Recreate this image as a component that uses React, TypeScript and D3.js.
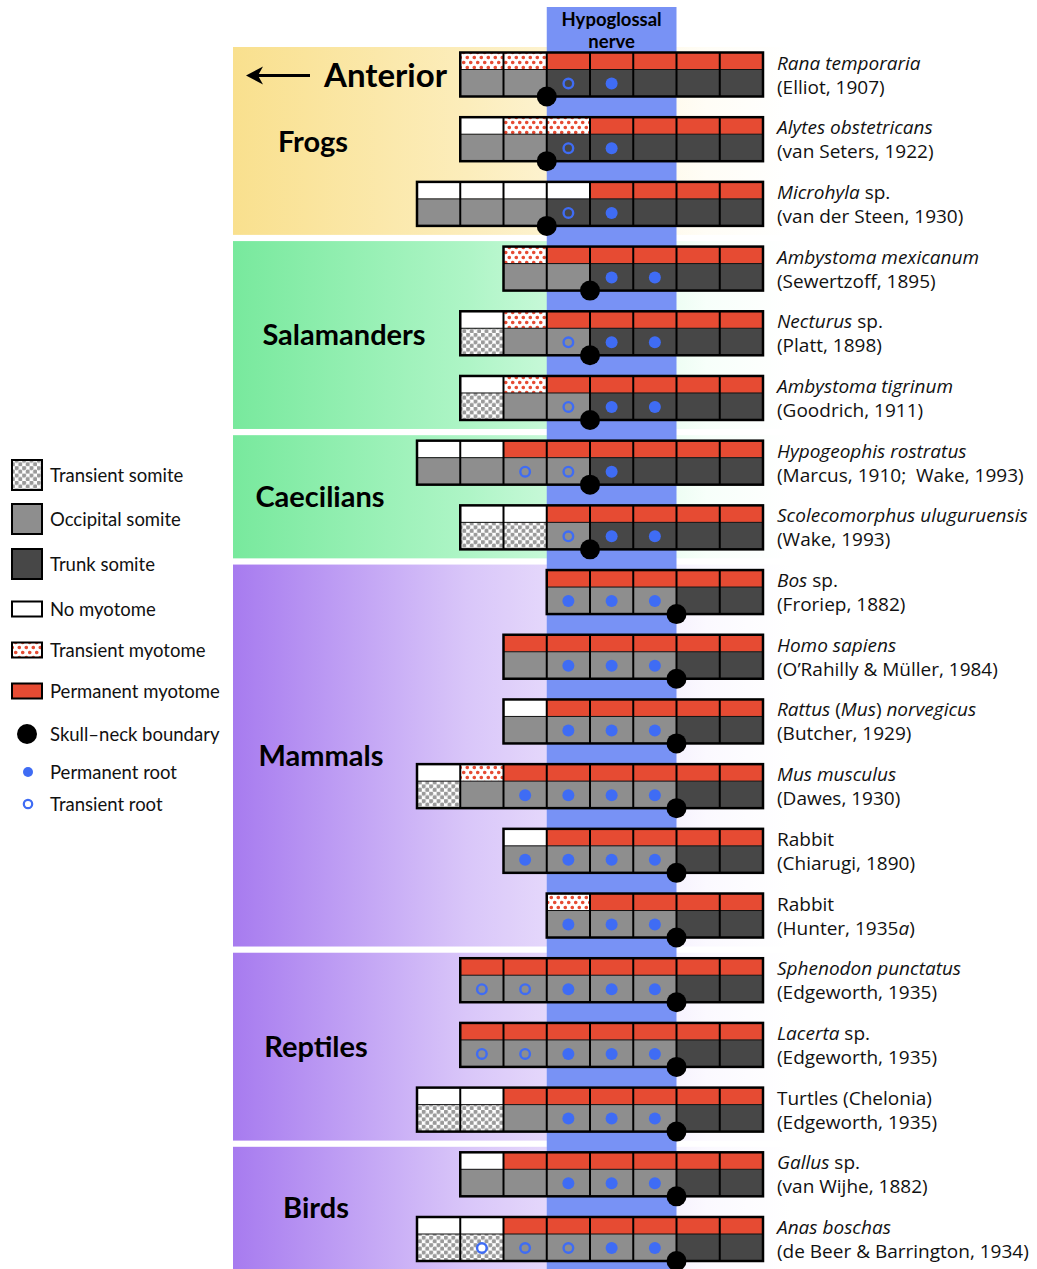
import React from "react";
import * as d3 from "d3";

// ---------- DATA ----------
const speciesNames = [
  "*Rana temporaria*", "*Alytes obstetricans*", "*Microhyla* sp.", "*Ambystoma mexicanum*",
  "*Necturus* sp.", "*Ambystoma tigrinum*", "*Hypogeophis rostratus*", "*Scolecomorphus uluguruensis*",
  "*Bos* sp.", "*Homo sapiens*", "*Rattus* (*Mus*) *norvegicus*", "*Mus musculus*", "Rabbit", "Rabbit",
  "*Sphenodon punctatus*", "*Lacerta* sp.", "Turtles (Chelonia)", "*Gallus* sp.", "*Anas boschas*",
];
const speciesRefs = [
  "(Elliot, 1907)", "(van Seters, 1922)", "(van der Steen, 1930)", "(Sewertzoff, 1895)",
  "(Platt, 1898)", "(Goodrich, 1911)", "(Marcus, 1910;  Wake, 1993)", "(Wake, 1993)",
  "(Froriep, 1882)", "(O’Rahilly & Müller, 1984)", "(Butcher, 1929)", "(Dawes, 1930)",
  "(Chiarugi, 1890)", "(Hunter, 1935*a*)", "(Edgeworth, 1935)", "(Edgeworth, 1935)",
  "(Edgeworth, 1935)", "(van Wijhe, 1882)", "(de Beer & Barrington, 1934)",
];
// first somite column (0 = most anterior column)
const startColumns = [1, 1, 0, 2, 1, 1, 0, 1, 3, 2, 2, 0, 2, 3, 1, 1, 0, 1, 0];
// myotome: N none, T transient, P permanent
const myotomeRows = [
  "TTPPPPP", "NTTPPPP", "NNNNPPPP", "TPPPPP", "NTPPPPP", "NTPPPPP", "NNPPPPPP", "NNPPPPP",
  "PPPPP", "PPPPPP", "NPPPPP", "NTPPPPPP", "NPPPPP", "TPPPP", "PPPPPPP", "PPPPPPP",
  "NNPPPPPP", "NPPPPPP", "NNPPPPPP",
];
// somite: t transient, o occipital, k trunk
const somiteRows = [
  "ookkkkk", "ookkkkk", "oookkkkk", "ookkkk", "tookkkk", "tookkkk", "ooookkkk", "ttokkkk",
  "oookk", "ooookk", "ooookk", "toooookk", "ooookk", "oookk", "oooookk", "oooookk",
  "ttooookk", "oooookk", "ttooookk",
];
// roots: . none, P permanent, T transient
const rootRows = [
  "..TP...", "..TP...", "...TP...", "..PP..", "..TPP..", "..TPP..", "..TTP...", "..TPP..",
  "PPP..", ".PPP..", ".PPP..", "..PPPP..", "PPPP..", "PPP..", "TTPPP..", "TTPPP..",
  "...PPP..", "..PPP..", ".TTTPP..",
];
// skull-neck boundary: column edge index
const boundaryEdges = [3, 3, 3, 4, 4, 4, 4, 4, 6, 6, 6, 6, 6, 6, 6, 6, 6, 6, 6];

const groupNames = ["Frogs", "Salamanders", "Caecilians", "Mammals", "Reptiles", "Birds"];
const groupFirstRow = [0, 3, 6, 8, 14, 17];
const groupLastRow = [2, 5, 7, 13, 16, 18];
const groupPalette = ["yellow", "green", "green", "purple", "purple", "purple"];

const hypoglossalColumns = [3, 6]; // band from edge 3 to edge 6

const legendLabels = [
  "Transient somite", "Occipital somite", "Trunk somite", "No myotome", "Transient myotome",
  "Permanent myotome", "Skull–neck boundary", "Permanent root", "Transient root",
];
const legendKinds = ["t", "o", "k", "N", "T", "P", "boundary", "rootP", "rootT"];

// ---------- STYLE / LAYOUT ----------
const W = 1037, H = 1269;
const FONT = "Lato, 'Open Sans', sans-serif";
const FONT2 = "'Open Sans', 'Noto Sans', sans-serif";
const C = {
  red: "#e64b33", occ: "#8e8e8e", trunk: "#474747", root: "#3f6cf4", band: "#7892f5",
};
const gradients: Record<string, string[]> = {
  yellow: ["#f9e08e", "#fcedbb", "#fffdf6"],
  green: ["#78e99d", "#aef5c6", "#f7fffa"],
  purple: ["#a77bef", "#d9c6f9", "#fbf9ff"],
};
const groupLabelX = [313, 344, 320, 321, 316, 316];
const legendY = [475, 519, 564, 609, 650, 691, 734, 772, 804];

const ROW_H = 44, MYO_H = 17;

function Rich({ text, x, y, size }: { text: string; x: number; y: number; size: number }) {
  const parts = text.split("*");
  return (
    <text x={x} y={y} fontSize={size} fontFamily={FONT2} fill="#111" style={{ whiteSpace: "pre" }}>
      {parts.map((p, i) => (
        <tspan key={i} fontStyle={i % 2 === 1 ? "italic" : "normal"}>{p}</tspan>
      ))}
    </text>
  );
}

export default function App() {
  const x = d3.scaleLinear().domain([0, 8]).range([417, 763]);
  const y = d3.scaleLinear().domain([0, 18]).range([52.5, 1217]);
  const cw = x(1) - x(0);

  const somiteFill = (s: string) => (s === "t" ? "url(#pSom)" : s === "o" ? C.occ : C.trunk);
  const myoFill = (m: string) => (m === "N" ? "#fff" : m === "T" ? "url(#pMyo)" : C.red);

  return (
    <svg width={W} height={H} style={{ position: "absolute", left: 0, top: 0, background: "#fff" }}>
      <defs>
        {Object.entries(gradients).map(([k, s]) => (
          <linearGradient key={k} id={"g-" + k} gradientUnits="userSpaceOnUse" x1={233} x2={790} y1={0} y2={0}>
            <stop offset="0" stopColor={s[0]} />
            <stop offset="0.42" stopColor={s[1]} />
            <stop offset="0.85" stopColor={s[2]} />
            <stop offset="1" stopColor="#ffffff" />
          </linearGradient>
        ))}
        <pattern id="pSom" width={7.4} height={7.4} patternUnits="userSpaceOnUse">
          <rect width={7.4} height={7.4} fill="#fff" />
          <circle cx={1.85} cy={1.85} r={2.2} fill="#9a9a9a" />
          <circle cx={5.55} cy={5.55} r={2.2} fill="#9a9a9a" />
        </pattern>
        <pattern id="pMyo" width={7} height={10} patternUnits="userSpaceOnUse">
          <rect width={7} height={10} fill="#fff" />
          <circle cx={1.75} cy={2.5} r={1.8} fill={C.red} />
          <circle cx={5.25} cy={7.5} r={1.8} fill={C.red} />
        </pattern>
      </defs>

      {/* group backgrounds */}
      {groupNames.map((g, i) => {
        const top = y(groupFirstRow[i]) - 5.5;
        const bottom = Math.min(H, y(groupLastRow[i]) + 53);
        return (
          <g key={g}>
            <rect x={233} y={top} width={790 - 233} height={bottom - top} fill={`url(#g-${groupPalette[i]})`} />
            <text x={groupLabelX[i]} y={(top + bottom) / 2 + (i === 0 ? 11 : 10)} textAnchor="middle"
              fontSize={29} fontWeight={700} fontFamily={FONT} fill="#000">{g}</text>
          </g>
        );
      })}

      {/* hypoglossal band */}
      <rect x={x(hypoglossalColumns[0])} y={7} width={x(hypoglossalColumns[1]) - x(hypoglossalColumns[0])} height={H - 7} fill={C.band} />
      <text x={(x(3) + x(6)) / 2} y={26} textAnchor="middle" fontSize={18.5} fontWeight={700} fontFamily={FONT}>Hypoglossal</text>
      <text x={(x(3) + x(6)) / 2} y={48} textAnchor="middle" fontSize={18.5} fontWeight={700} fontFamily={FONT}>nerve</text>

      {/* anterior arrow */}
      <line x1={256} x2={310} y1={75.5} y2={75.5} stroke="#000" strokeWidth={3} />
      <path d="M246,75.5 L263,66.5 L258,75.5 L263,84.5 Z" fill="#000" />
      <text x={324} y={87} fontSize={33} fontWeight={700} fontFamily={FONT}>Anterior</text>

      {/* rows */}
      {somiteRows.map((srow, r) => {
        const top = y(r);
        const s0 = startColumns[r];
        const n = srow.length;
        const left = x(s0), right = x(s0 + n);
        return (
          <g key={r}>
            {srow.split("").map((s, j) => {
              const c = s0 + j;
              return (
                <g key={j}>
                  <rect x={x(c)} y={top} width={cw} height={MYO_H} fill={myoFill(myotomeRows[r][j])} />
                  <rect x={x(c)} y={top + MYO_H} width={cw} height={ROW_H - MYO_H} fill={somiteFill(s)} />
                </g>
              );
            })}
            <line x1={left} x2={right} y1={top + MYO_H} y2={top + MYO_H} stroke="#111" strokeWidth={1} />
            {d3.range(1, n).map((j) => (
              <line key={j} x1={x(s0 + j)} x2={x(s0 + j)} y1={top} y2={top + ROW_H} stroke="#000" strokeWidth={2} />
            ))}
            <rect x={left} y={top} width={right - left} height={ROW_H} fill="none" stroke="#000" strokeWidth={2.5} />
            {rootRows[r].split("").map((rt, j) => {
              const cx = x(s0 + j) + cw / 2, cy = top + 31;
              if (rt === "P") return <circle key={j} cx={cx} cy={cy} r={6} fill={C.root} />;
              if (rt === "T") return <circle key={j} cx={cx} cy={cy} r={4.8} fill={somiteRows[r][j] === "t" ? "#fff" : "none"} stroke={C.root} strokeWidth={2.4} />;
              return null;
            })}
            <circle cx={x(boundaryEdges[r])} cy={top + ROW_H} r={10} fill="#000" />
            <Rich text={speciesNames[r]} x={777} y={top + 17} size={19} />
            <Rich text={speciesRefs[r]} x={777} y={top + 41} size={19} />
          </g>
        );
      })}

      {/* legend */}
      {legendLabels.map((lab, i) => {
        const k = legendKinds[i];
        const cy = legendY[i];
        let sw: React.ReactNode = null;
        if (k === "t" || k === "o" || k === "k")
          sw = <rect x={12} y={cy - 15} width={30} height={30} fill={somiteFill(k)} stroke="#000" strokeWidth={2} />;
        else if (k === "N" || k === "T" || k === "P")
          sw = <rect x={12} y={cy - 7.5} width={30} height={15} fill={myoFill(k)} stroke="#000" strokeWidth={2} />;
        else if (k === "boundary") sw = <circle cx={27} cy={cy} r={10} fill="#000" />;
        else if (k === "rootP") sw = <circle cx={28} cy={cy} r={5} fill={C.root} />;
        else sw = <circle cx={28} cy={cy} r={4.2} fill="none" stroke={C.root} strokeWidth={2.2} />;
        return (
          <g key={lab}>
            {sw}
            <text x={50} y={cy + 6.5} fontSize={18.5} fontFamily={FONT} fill="#111">{lab}</text>
          </g>
        );
      })}
    </svg>
  );
}
